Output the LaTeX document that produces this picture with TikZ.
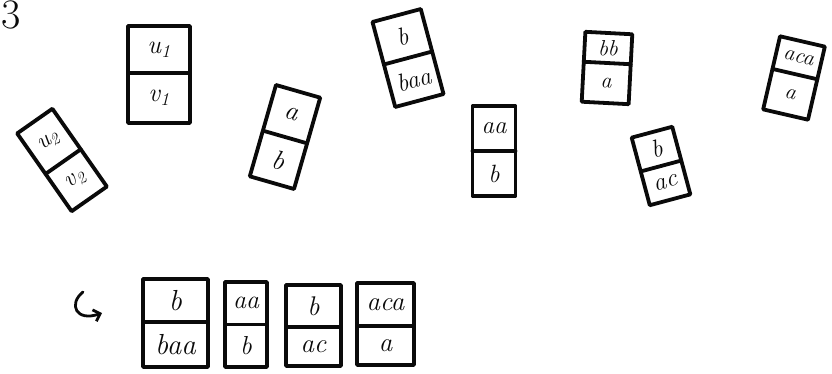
\documentclass[tikz,border=0pt]{standalone}
\usetikzlibrary{arrows.meta}
\definecolor{ink}{HTML}{0A0A0A}

\begin{document}
\begin{tikzpicture}[x=1pt,y=-1pt,line width=3.8pt,line join=round,line cap=round,
 lab/.style={font=\itshape,text=ink,inner sep=0pt}]
\useasboundingbox (0,0) rectangle (832,374);
\node[font=\fontsize{42}{46}\selectfont,text=ink,inner sep=0pt] (nr) at (11,15) {3};
% dominoes: centre x/y, width, height, divider shift, angle, text size, top, bottom
\foreach \x/\y/\w/\h/\dv/\ang/\fs/\up/\lo [count=\i] in {
 159/74.5/62/97/-1.5/0/26/u\textsubscript{1}/v\textsubscript{1},
 62/160/43/95/2/35/24/u\textsubscript{2}/v\textsubscript{2},
 285/137/46/95/0/-16/27/a/b, 408/58/50/88/0/15/25/b/baa,
 494/151/43/90/0/0/25/aa/b, 607/68/47/70/-5/-3/22/bb/a,
 661/166/42/70/0/15/25/b/ac, 794/78/46/75/-4/-13/22/aca/a,
 175.5/323/65/88/-1/0/29/b/baa, 246/324.5/42/85/0/0/26/aa/b,
 313.5/325.5/55/81/1.5/0/27/b/ac, 385.5/324/57/82/2/0/27/aca/a} {
 \begin{scope}[shift={(\x,\y)},rotate=\ang,transform shape]
  \draw[ink] (-\w/2,-\h/2) rectangle (\w/2,\h/2);
  \draw[ink] (-\w/2,\dv) -- (\w/2,\dv);
  \node[lab] (up\i) at (0,{(\dv-\h/2)/2}) {\fontsize{\fs}{\fs}\selectfont\up};
  \node[lab] (lo\i) at (0,{(\dv+\h/2)/2}) {\fontsize{\fs}{\fs}\selectfont\lo};
 \end{scope}
}
% the hook in front of the row
\coordinate (hk0) at (83,292);
\coordinate (hk1) at (102,313);
\draw[ink,line width=2.8pt,-{Straight Barb[length=6pt,width=12pt]}] (hk0) .. controls (68,304) and (76,322) .. (hk1);
\end{tikzpicture}
\end{document}
